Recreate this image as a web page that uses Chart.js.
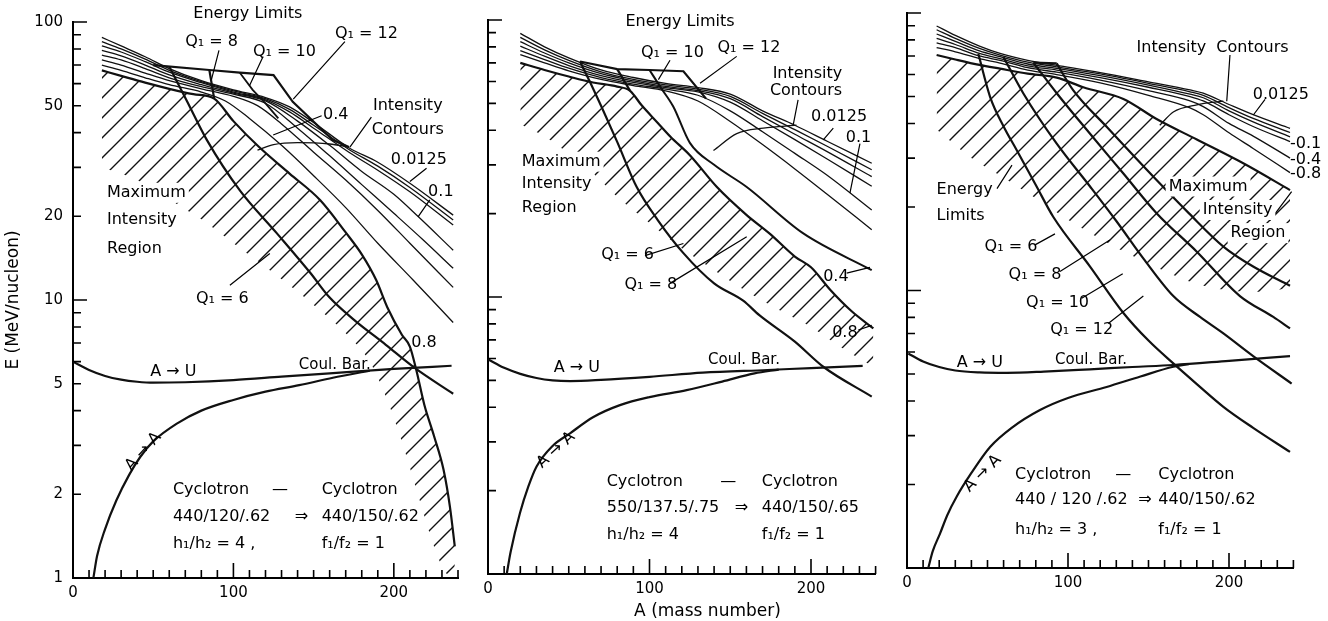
<!DOCTYPE html>
<html>
<head>
<meta charset="utf-8">
<script src="https://cdn.jsdelivr.net/npm/chart.js@4.4.1/dist/chart.umd.min.js"></script>
<style>
html, body { margin: 0; background: #fff; }
#wrap { position: relative; width: 1328px; height: 621px; }
canvas { position: absolute; top: 0; }
</style>
</head>
<body>
<div id="wrap">
  <canvas id="cLeft" width="470" height="621" style="left:0"></canvas>
  <canvas id="cMid" width="420" height="621" style="left:470px"></canvas>
  <canvas id="cRight" width="438" height="621" style="left:890px"></canvas>
</div>
<script>
// ---- values: [A (mass number), E (MeV/nucleon)] ----
var xTicks = [0, 100, 200];
var yTicks = [1, 2, 5, 10, 20, 50, 100];

// left panel: 440/120/.62 => 440/150/.62, h1/h2 = 4
var leftAU = [[0,6.0],[10,5.6],[20,5.33],[30,5.17],[40,5.08],[50,5.04],[70,5.06],[100,5.15],[130,5.3],[160,5.45],[200,5.65],[236,5.8]];
var leftAA = [[12.7,1.0],[15,1.2],[20,1.5],[27,1.9],[35,2.35],[42,2.73],[50,3.1],[65,3.6],[80,4.0],[100,4.37],[120,4.68],[141,4.94],[162,5.25],[185,5.57]];
var leftC1 = [[18,88],[30,82],[45,75],[60,68],[80,61.5],[100,57],[120,53.5],[135,49.5],[150,43.5],[172,35.3],[190,31.3],[210,26.3],[237,20.2]];
var leftC2 = [[18,85],[30,80],[45,73.5],[60,67],[80,61],[100,56.5],[120,53],[135,48.5],[150,42.5],[172,34.8],[190,30.3],[210,25.4],[237,19.4]];
var leftC3 = [[18,82],[30,78],[45,72],[60,66],[80,60.5],[100,56],[120,52.5],[135,47.5],[150,41.5],[172,34],[190,29.3],[210,24.5],[237,18.6]];
var leftC4 = [[18,79],[30,75.5],[45,70],[60,64.5],[80,59.5],[100,55.5],[120,52],[140,44],[160,36],[180,29],[200,24],[215,20],[237,15.1]];
var leftC5 = [[18,76],[30,73],[45,68],[60,63],[80,58.5],[100,55],[120,51],[140,41.5],[160,33],[180,26],[200,20.5],[218,16.5],[237,13]];
var leftC6 = [[18,73],[30,70],[45,65.5],[60,61.5],[80,57.5],[100,54],[115,50],[130,43],[150,34],[170,27],[190,21],[210,16],[237,11.1]];
var leftC7 = [[18,70],[30,67],[45,63],[60,59.5],[80,56],[95,52],[110,45],[130,36],[150,28],[170,21.5],[190,16],[212,11.8],[237,8.3]];
var leftEdge = [[18,67],[30,64],[45,60.5],[60,57.5],[75,55],[88,53],[100,44],[116,35.5],[135,28.5],[154,22.9],[170,17.5],[180,14.6],[189,11.8],[196,9.4],[205,7.5],[210,6.8],[214,5.6],[219,4.2],[225,3.25],[231,2.45],[235,1.8],[238,1.3]];
var leftHatchLow = [[18,30],[40,27],[60,23],[80,19.5],[100,16],[125,12.5],[150,9.6],[170,7.6],[185,6.0],[195,4.5],[205,3.1],[215,2.0],[225,1.3],[232,1.05],[238,1.0]];
var leftLimitTop = [[50,70],[85,67.2],[104,65.7],[125,64.4],[137,51.6],[162,37.6],[172,35.5]];
var leftQ6 = [[60,69.2],[71,52],[83.5,37.6],[104,24.8],[127,17.4],[148,12.5],[160,10.2],[175,8.5],[195,6.9],[213,5.7],[237,4.6]];
var leftQ8 = [[85,67.2],[88,53]];
var leftQ10 = [[104,65.7],[112,57],[120,51],[128,45]];
var leftArc = [[115,34.6],[125,36.2],[140,36.8],[160,36.4],[172,35.5]];

// middle panel: 550/137.5/.75 => 440/150/.65, h1/h2 = 4
var midAU = [[0,5.96],[10,5.55],[20,5.28],[30,5.1],[40,5.0],[51,4.97],[70,5.02],[100,5.15],[133,5.33],[173,5.45],[200,5.54],[232,5.64]];
var midAA = [[11.6,1.0],[14,1.2],[19.8,1.66],[25,2.07],[30,2.44],[40,2.9],[50.8,3.22],[65,3.68],[81.7,4.07],[100,4.35],[123,4.61],[145,4.95],[165,5.3],[180,5.47]];
var midC1 = [[20,89.5],[35,80],[50,73],[70,66],[90,62],[110,59],[130,57],[150,54],[170,47],[190,41.7],[210,36.5],[237.6,30.4]];
var midC2 = [[20,86.5],[35,78],[50,71.5],[70,65],[90,61],[110,58.3],[130,56.3],[150,53],[170,46],[190,40.2],[210,35],[237.6,28.8]];
var midC3 = [[20,83.5],[35,76],[50,70],[70,64],[90,60.3],[110,57.6],[130,55.6],[150,52],[170,44.8],[190,38.7],[210,33.5],[237.6,27.2]];
var midC4 = [[20,80.5],[35,74],[50,68.5],[70,63],[90,59.5],[110,57],[130,55],[150,50.5],[170,43.3],[190,37],[210,31.5],[237.6,25.1]];
var midC5 = [[20,77.5],[35,72],[50,67],[70,62],[90,58.7],[110,56.3],[130,53.5],[150,47],[170,39.5],[190,33],[210,27.5],[237.6,20.6]];
var midC6 = [[20,75],[35,70],[50,65.5],[70,61],[90,58],[110,55.5],[130,51],[150,43],[170,35.5],[190,29],[210,23.5],[237.6,17.5]];
var midEdge = [[20,70],[35,66],[50,62.5],[65,59.5],[80,57.5],[88,55.5],[95,49.3],[105,42.6],[113,37.9],[125,32.5],[141.6,25],[160,19.8],[174.6,16.9],[190,14],[200,12.8],[212,10.6],[225,8.9],[238.6,7.7]];
var midHatchLow = [[20,42],[35,38],[50,33],[65,28],[80,23],[100,18.5],[120,15],[140,12.5],[160,10.5],[180,9],[200,7.8],[220,6.5],[238.6,5.6]];
var midLimitTop = [[57,70.8],[80,66.5],[100,66],[121,65.3],[135,52]];
var midQ6 = [[57,70.8],[63,60],[70,49],[80,36.3],[92,25],[105,19],[121,14.4],[140,11.2],[158,9.7],[168,8.6],[190,6.9],[207.6,5.6],[237.6,4.37]];
var midQ8 = [[80,66.5],[88,55.5]];
var midQ10 = [[100,66],[107,57],[114.7,48.7],[125,36],[140,30],[160,25],[195,17],[237.6,12.5]];
var midArc = [[139.6,33.8],[154,38.9],[170.5,40.7],[191,41.7]];

// right panel: 440/120/.62 => 440/150/.62, h1/h2 = 3
var rightAU = [[0.8,5.93],[10,5.55],[20,5.3],[30,5.15],[45,5.07],[62,5.05],[85,5.1],[113.7,5.2],[140,5.3],[165.4,5.39],[200,5.58],[237.9,5.8]];
var rightAA = [[13.2,1.0],[16,1.15],[20.5,1.33],[25,1.55],[30.9,1.81],[40,2.2],[51.6,2.73],[65,3.2],[82.6,3.71],[100,4.1],[124,4.49],[145,4.9],[165.4,5.31],[175,5.43]];
var rightC1 = [[18.4,89.8],[30,83],[45,76],[57.8,71.5],[75,67.5],[93,64.8],[120,61],[150,56.5],[175.8,52.8],[184,51.4],[200,46.8],[215,43],[237.9,38.4]];
var rightC2 = [[18.4,87],[30,81],[45,74.5],[57.8,70.5],[75,66.5],[93,64],[120,60.3],[150,55.8],[175.8,52],[184,50.5],[200,45.6],[215,41.7],[237.9,37.1]];
var rightC3 = [[18.4,84],[30,79],[45,73],[57.8,69.6],[75,65.5],[93,63.2],[120,59.5],[150,55],[175.8,51],[184,49.5],[200,44.4],[215,40.5],[237.9,35.8]];
var rightC4 = [[18.4,81],[30,77],[45,71.5],[57.8,68.5],[75,64.5],[93,62.3],[120,58.5],[150,54],[175.8,50],[184,48.2],[200,43],[215,39],[237.9,34.4]];
var rightC5 = [[18.4,78],[30,75],[45,70],[57.8,67.5],[75,63.5],[93,61.2],[120,57.3],[150,52.5],[175.8,48.2],[184,46],[200,40],[215,36],[237.9,30]];
var rightC6 = [[18.4,75],[30,72.5],[45,68.5],[57.8,66],[75,62.3],[93,60],[120,56],[150,50.5],[175.8,45.5],[184,43],[200,37],[215,32.5],[237.9,26.6]];
var rightEdge = [[18.4,70.6],[30,68],[45,65],[57.8,63],[75,60.5],[93,58.5],[109.5,54],[134.4,49],[155,41.5],[180,35],[210,28.5],[237.9,23]];
var rightHatchLow = [[18.4,38],[40,30],[60,25.5],[80,21.5],[100,18],[125,14.8],[150,12.5],[175,10.8],[200,10],[220,9.9],[237.9,10.2]];
var rightLimitTop = [[78.5,66.2],[93,65.8]];
var rightQ6 = [[44.3,71.3],[51.6,49.9],[60,39],[68.1,32.1],[80,24],[90.9,18.4],[113.7,12.2],[134.4,8.3],[150,6.6],[165.4,5.46],[180,4.6],[196.5,3.81],[215,3.2],[237.9,2.62]];
var rightQ8 = [[59.8,69.6],[72.2,51.4],[93,33.8],[113.7,23.7],[130,17.8],[147,13],[165.4,9.55],[182,8.03],[196.5,7.0],[215,5.8],[238.9,4.62]];
var rightQ10 = [[78.5,66.2],[93,51.4],[113.7,36.7],[134.4,26.4],[155,19],[180,13.8],[206.8,9.55],[227.5,8.03],[237.9,7.3]];
var rightQ12 = [[93,65.8],[103.3,52.6],[124,38.9],[155,25],[175,19],[196.5,14.4],[215,12.2],[237.9,10.4]];
var rightArc = [[157,39.4],[165.4,44],[180,46.7],[196.5,48.1]];

var FONT = '"DejaVu Sans", sans-serif';

function hatchPattern() {
    var s = 20;
    var c = document.createElement('canvas');
    c.width = s; c.height = s;
    var g = c.getContext('2d');
    g.strokeStyle = '#111';
    g.lineWidth = 1.4;
    g.beginPath();
    g.moveTo(0, s); g.lineTo(s, 0);
    g.moveTo(-2, 2); g.lineTo(2, -2);
    g.moveTo(s - 2, s + 2); g.lineTo(s + 2, s - 2);
    g.stroke();
    return g.createPattern(c, 'repeat');
}

function curve(a, w, straight) {
    return {
        data: a.map(function (p) { return {x: p[0], y: p[1]}; }),
        showLine: true,
        borderColor: '#111',
        borderWidth: w,
        pointRadius: 0,
        fill: false,
        tension: 0,
        cubicInterpolationMode: straight ? 'default' : 'monotone'
    };
}

// boundary line with the hatched band under it
function hatched(edge, low) {
    var top = curve(edge, 2.2);
    top.fill = '+1';
    top.backgroundColor = hatchPattern();
    var bottom = curve(low, 0);
    bottom.borderColor = 'rgba(0,0,0,0)';
    return [top, bottom];
}

function decorPlugin(notes) {
    return {
        id: 'decor',
        afterDraw: function (chart) {
            var ctx = chart.ctx, xs = chart.scales.x, ys = chart.scales.y, a = chart.chartArea;
            ctx.save();
            // inward tick marks
            ctx.strokeStyle = '#000';
            ctx.lineWidth = 1.6;
            ctx.beginPath();
            for (var v = 10; v <= 240; v += 10) {
                var px = xs.getPixelForValue(v), len = v % 100 === 0 ? 15 : 8;
                ctx.moveTo(px, a.bottom);
                ctx.lineTo(px, a.bottom - len);
            }
            [1, 10].forEach(function (d) {
                for (var k = 2; k <= 10; k++) {
                    var py = ys.getPixelForValue(d * k), l = k === 10 ? 14 : 8;
                    ctx.moveTo(a.left, py);
                    ctx.lineTo(a.left + l, py);
                }
            });
            ctx.stroke();
            // leader lines
            ctx.lineWidth = 1.2;
            ctx.beginPath();
            notes.leaders.forEach(function (l) {
                ctx.moveTo(xs.getPixelForValue(l[0]), ys.getPixelForValue(l[1]));
                ctx.lineTo(xs.getPixelForValue(l[2]), ys.getPixelForValue(l[3]));
            });
            ctx.stroke();
            // text
            ctx.textBaseline = 'middle';
            notes.labels.forEach(function (t) {
                ctx.save();
                ctx.font = (t.size || 16) + 'px ' + FONT;
                ctx.translate(xs.getPixelForValue(t.x), ys.getPixelForValue(t.y));
                if (t.rot) ctx.rotate(t.rot * Math.PI / 180);
                ctx.textAlign = t.align || 'center';
                if (t.bg) {
                    var w = ctx.measureText(t.text).width;
                    var x0 = t.align === 'left' ? 0 : -w / 2;
                    ctx.fillStyle = '#fff';
                    ctx.fillRect(x0 - 3, -10, w + 6, 20);
                }
                ctx.fillStyle = '#000';
                ctx.fillText(t.text, 0, 0);
                ctx.restore();
            });
            ctx.restore();
        }
    };
}

function makePanel(id, geo, datasets, notes) {
    return new Chart(document.getElementById(id).getContext('2d'), {
        type: 'scatter',
        data: {datasets: datasets},
        options: {
            responsive: false,
            animation: false,
            devicePixelRatio: 1,
            layout: {autoPadding: false, padding: {left: 0, top: geo.top, right: geo.right, bottom: 0}},
            plugins: {legend: {display: false}, tooltip: {enabled: false}},
            scales: {
                x: {
                    type: 'linear', min: 0, max: 240,
                    grid: {display: false, drawTicks: false},
                    border: {color: '#000', width: 2},
                    afterBuildTicks: function (s) { s.ticks = xTicks.map(function (v) { return {value: v}; }); },
                    afterFit: function (s) { s.height = geo.xh; },
                    ticks: {color: '#000', padding: 6, maxRotation: 0, font: {family: FONT, size: 15},
                        callback: function (v) { return String(v); }}
                },
                y: {
                    type: 'logarithmic', min: 1, max: 100,
                    grid: {display: false, drawTicks: false},
                    border: {color: '#000', width: 2},
                    afterBuildTicks: function (s) { s.ticks = yTicks.map(function (v) { return {value: v}; }); },
                    afterFit: function (s) { s.width = geo.yw; },
                    ticks: {display: geo.yLabels, color: '#000', padding: 10, font: {family: FONT, size: 15},
                        callback: function (v) { return String(v); }},
                    title: {display: geo.yLabels, text: 'E (MeV/nucleon)', color: '#000',
                        font: {family: FONT, size: 17}, padding: {top: 3, bottom: 0}}
                }
            }
        },
        plugins: [decorPlugin(notes)]
    });
}

// ---- left panel ----
makePanel('cLeft', {top: 22, right: 12, xh: 43, yw: 73, yLabels: true},
    hatched(leftEdge, leftHatchLow).concat([
        curve(leftC1, 1.3), curve(leftC2, 1.3), curve(leftC3, 1.3), curve(leftC4, 1.3),
        curve(leftC5, 1.3), curve(leftC6, 1.3), curve(leftC7, 1.3), curve(leftArc, 1.3),
        curve(leftLimitTop, 2.2, true), curve(leftQ8, 2.2, true), curve(leftQ10, 1.8, true),
        curve(leftQ6, 2.2), curve(leftAU, 2.2), curve(leftAA, 2.2)
    ]),
    {
        labels: [
            {text: 'Energy Limits', x: 109, y: 107},
            {text: 'Q₁ = 8', x: 86.4, y: 85},
            {text: 'Q₁ = 10', x: 131.8, y: 78.3},
            {text: 'Q₁ = 12', x: 182.9, y: 90.9},
            {text: '0.4', x: 163.8, y: 46.5},
            {text: 'Intensity', x: 208.7, y: 49.8},
            {text: 'Contours', x: 208.7, y: 40.9},
            {text: '0.0125', x: 215.6, y: 32},
            {text: '0.1', x: 229.3, y: 24.4},
            {text: 'Maximum', x: 21.2, y: 24.3, align: 'left', bg: true},
            {text: 'Intensity', x: 21.2, y: 19.4, align: 'left', bg: true},
            {text: 'Region', x: 21.2, y: 15.3, align: 'left', bg: true},
            {text: 'Q₁ = 6', x: 93.1, y: 10.1},
            {text: '0.8', x: 218.8, y: 7.0},
            {text: 'Coul. Bar.', x: 163.2, y: 5.84, size: 15},
            {text: 'A → U', x: 62.5, y: 5.52},
            {text: 'A → A', x: 43.8, y: 2.85, rot: -48},
            {text: 'Cyclotron', x: 62.3, y: 2.07, align: 'left'},
            {text: '—', x: 129, y: 2.07},
            {text: 'Cyclotron', x: 155, y: 2.07, align: 'left'},
            {text: '440/120/.62', x: 62.3, y: 1.66, align: 'left'},
            {text: '⇒', x: 142.4, y: 1.66},
            {text: '440/150/.62', x: 155, y: 1.66, align: 'left'},
            {text: 'h₁/h₂ = 4 ,', x: 62.3, y: 1.33, align: 'left'},
            {text: 'f₁/f₂ = 1', x: 155, y: 1.33, align: 'left'}
        ],
        leaders: [[91, 79, 86.3, 62], [118.5, 75.2, 110, 59], [169.5, 85, 137.3, 52.8],
            [155, 46, 124.8, 39.2], [186, 45.5, 172.6, 35.5], [220.4, 29.8, 210, 26.7],
            [222.4, 22.9, 215.1, 19.9], [97.8, 11.3, 122.7, 14.7]]
    });

// ---- middle panel ----
makePanel('cMid', {top: 20, right: 14.4, xh: 47, yw: 18, yLabels: false},
    hatched(midEdge, midHatchLow).concat([
        curve(midC1, 1.3), curve(midC2, 1.3), curve(midC3, 1.3), curve(midC4, 1.3),
        curve(midC5, 1.3), curve(midC6, 1.3), curve(midArc, 1.3),
        curve(midLimitTop, 2.2, true), curve(midQ8, 2.2, true),
        curve(midQ10, 2), curve(midQ6, 2.2), curve(midAU, 2.2), curve(midAA, 2.2)
    ]),
    {
        labels: [
            {text: 'Energy Limits', x: 118.9, y: 98.6},
            {text: 'Q₁ = 10', x: 114.2, y: 76.2},
            {text: 'Q₁ = 12', x: 161.6, y: 79.1},
            {text: 'Intensity', x: 197.8, y: 63.8},
            {text: 'Contours', x: 196.9, y: 55.6},
            {text: '0.0125', x: 217.4, y: 44.8},
            {text: '0.1', x: 229.4, y: 37.4},
            {text: 'Maximum', x: 20.9, y: 30.8, align: 'left', bg: true},
            {text: 'Intensity', x: 20.9, y: 25.7, align: 'left', bg: true},
            {text: 'Region', x: 20.9, y: 20.9, align: 'left', bg: true},
            {text: 'Q₁ = 6', x: 86.4, y: 14.2},
            {text: 'Q₁ = 8', x: 100.8, y: 11.05},
            {text: '0.4', x: 215.4, y: 11.84},
            {text: '0.8', x: 221, y: 7.4},
            {text: 'Coul. Bar.', x: 158.5, y: 5.93, size: 15},
            {text: 'A → U', x: 55, y: 5.53},
            {text: 'A → A', x: 42.1, y: 2.8, rot: -42},
            {text: 'Cyclotron', x: 73.5, y: 2.15, align: 'left'},
            {text: '—', x: 148.8, y: 2.15},
            {text: 'Cyclotron', x: 169.5, y: 2.15, align: 'left'},
            {text: '550/137.5/.75', x: 73.5, y: 1.73, align: 'left'},
            {text: '⇒', x: 157, y: 1.73},
            {text: '440/150/.65', x: 169.5, y: 1.73, align: 'left'},
            {text: 'h₁/h₂ = 4', x: 73.5, y: 1.38, align: 'left'},
            {text: 'f₁/f₂ = 1', x: 169.5, y: 1.38, align: 'left'},
            {text: 'A (mass number)', x: 135.9, y: 0.731, size: 17}
        ],
        leaders: [[112.7, 71.6, 105.5, 60.9], [154, 73.9, 131.3, 59.1], [192, 51.5, 189, 41.8],
            [213.8, 40.7, 207.6, 36.9], [230.3, 35.8, 224.1, 23.7], [97.2, 14.1, 121, 15.6],
            [112.7, 11.2, 160.2, 16.5], [222.1, 12.2, 236.5, 12.8], [229.3, 7.6, 237.6, 7.9]]
    });

// ---- right panel ----
makePanel('cRight', {top: 13, right: 34.6, xh: 53, yw: 17, yLabels: false},
    hatched(rightEdge, rightHatchLow).concat([
        curve(rightC1, 1.3), curve(rightC2, 1.3), curve(rightC3, 1.3), curve(rightC4, 1.3),
        curve(rightC5, 1.3), curve(rightC6, 1.3), curve(rightArc, 1.3),
        curve(rightLimitTop, 2.2, true),
        curve(rightQ6, 2.2), curve(rightQ8, 2.2), curve(rightQ10, 2.2), curve(rightQ12, 2.2),
        curve(rightAU, 2.2), curve(rightAA, 2.2)
    ]),
    {
        labels: [
            {text: 'Intensity  Contours', x: 189.8, y: 74.6},
            {text: '0.0125', x: 232.2, y: 50.9},
            {text: '-0.1', x: 237.9, y: 33.9, align: 'left'},
            {text: '-0.4', x: 237.9, y: 29.5, align: 'left'},
            {text: '-0.8', x: 237.9, y: 26.3, align: 'left'},
            {text: 'Energy', x: 18.4, y: 23, align: 'left'},
            {text: 'Limits', x: 18.4, y: 18.6, align: 'left'},
            {text: 'Q₁ = 6', x: 64.6, y: 14.4},
            {text: 'Q₁ = 8', x: 79.5, y: 11.4},
            {text: 'Q₁ = 10', x: 93.5, y: 9.0},
            {text: 'Q₁ = 12', x: 108.5, y: 7.2},
            {text: 'Maximum', x: 187, y: 23.7, bg: true},
            {text: 'Intensity', x: 205.3, y: 19.5, bg: true},
            {text: 'Region', x: 218, y: 16.1, bg: true},
            {text: 'A → U', x: 45.3, y: 5.47},
            {text: 'Coul. Bar.', x: 114.3, y: 5.62, size: 15},
            {text: 'A → A', x: 47, y: 2.19, rot: -45},
            {text: 'Cyclotron', x: 67.1, y: 2.16, align: 'left'},
            {text: '—', x: 134.3, y: 2.16},
            {text: 'Cyclotron', x: 156.1, y: 2.16, align: 'left'},
            {text: '440 / 120 /.62', x: 67.1, y: 1.76, align: 'left'},
            {text: '⇒', x: 147.8, y: 1.76},
            {text: '440/150/.62', x: 156.1, y: 1.76, align: 'left'},
            {text: 'h₁/h₂ = 3 ,', x: 67.1, y: 1.37, align: 'left'},
            {text: 'f₁/f₂ = 1', x: 156.1, y: 1.37, align: 'left'}
        ],
        leaders: [[200.6, 70.6, 198.6, 48.1], [222.4, 48.8, 215.1, 42.9], [55.9, 23.3, 65.2, 28.3],
            [79.5, 14.6, 91.9, 16.0], [95, 11.7, 126, 15.2], [108.5, 9.37, 134, 11.5],
            [125, 7.6, 146.8, 9.56], [225.5, 17.9, 238.9, 22.7]]
    });
</script>
</body>
</html>
